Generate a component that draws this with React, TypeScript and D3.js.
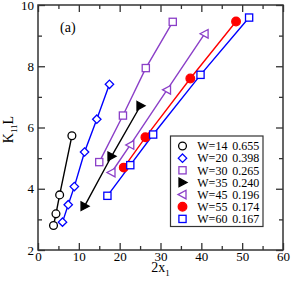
import React, { useEffect, useRef } from 'react';
import * as d3 from 'd3';

// series: 2x1 (x) and K11L (y)
const seriesNames = ['W=14', 'W=20', 'W=30', 'W=35', 'W=45', 'W=55', 'W=60'];
const seriesValues = ['0.655', '0.398', '0.265', '0.240', '0.196', '0.174', '0.167'];

const w14x = [3.8, 4.4, 5.3, 8.3];
const w14y = [2.8, 3.18, 3.8, 5.73];
const w20x = [6.0, 7.4, 8.9, 11.4, 14.4, 17.5];
const w20y = [2.91, 3.48, 4.07, 5.2, 6.27, 7.41];
const w30x = [15.0, 20.8, 26.4, 33.0];
const w30y = [4.87, 6.39, 7.94, 9.45];
const w35x = [11.4, 18.0, 25.1];
const w35y = [3.43, 5.06, 6.71];
const w45x = [18.0, 22.6, 31.6, 40.8];
const w45y = [4.53, 5.43, 7.23, 9.06];
const w55x = [21.0, 26.3, 37.3, 48.5];
const w55y = [4.69, 5.68, 7.6, 9.46];
const w60x = [17.0, 22.6, 28.2, 39.8, 51.7];
const w60y = [3.77, 4.77, 5.77, 7.72, 9.59];

const xTicks = [0, 10, 20, 30, 40, 50, 60];
const yTicks = [2, 4, 6, 8, 10];

const purple = '#8b3fc8';

const App = () => {
  const ref = useRef<SVGSVGElement>(null);

  useEffect(() => {
    const svg = d3.select(ref.current);
    svg.selectAll('*').remove();

    const width = 291, height = 281;
    const margin = { top: 5, right: 8, bottom: 31, left: 38 };
    const iw = width - margin.left - margin.right;
    const ih = height - margin.top - margin.bottom;
    const font = "'Liberation Serif', 'Times New Roman', serif";

    const x = d3.scaleLinear().domain([0, 60]).range([0, iw]);
    const y = d3.scaleLinear().domain([2, 10]).range([ih, 0]);

    const g = svg.append('g').attr('transform', `translate(${margin.left},${margin.top})`);

    const minorX = d3.range(5, 60, 10);
    const minorY = d3.range(3, 10, 2);

    // ticks on all four sides, pointing inward
    const styleAxis = (sel: any) => {
      sel.selectAll('path').remove();
      sel.selectAll('line').attr('stroke', '#333').attr('stroke-width', 1.3);
      sel.selectAll('text').style('font-family', font).style('font-size', '13px').attr('fill', '#000');
    };

    const major = 7, minor = 4;
    g.append('g').attr('transform', `translate(0,${ih})`)
      .call(d3.axisBottom(x).tickValues(minorX).tickSize(-minor).tickFormat(() => ''))
      .call(styleAxis);
    g.append('g').attr('transform', `translate(0,${ih})`)
      .call(d3.axisBottom(x).tickValues(xTicks).tickSize(-major).tickPadding(2).tickFormat(d3.format('d')))
      .call(styleAxis);
    g.append('g')
      .call(d3.axisTop(x).tickValues(minorX).tickSize(-minor).tickFormat(() => ''))
      .call(styleAxis);
    g.append('g')
      .call(d3.axisTop(x).tickValues(xTicks).tickSize(-major).tickFormat(() => ''))
      .call(styleAxis);
    g.append('g')
      .call(d3.axisLeft(y).tickValues(minorY).tickSize(-minor).tickFormat(() => ''))
      .call(styleAxis);
    g.append('g')
      .call(d3.axisLeft(y).tickValues(yTicks).tickSize(-major).tickPadding(4).tickFormat(d3.format('d')))
      .call(styleAxis);
    g.append('g').attr('transform', `translate(${iw},0)`)
      .call(d3.axisRight(y).tickValues(minorY).tickSize(-minor).tickFormat(() => ''))
      .call(styleAxis);
    g.append('g').attr('transform', `translate(${iw},0)`)
      .call(d3.axisRight(y).tickValues(yTicks).tickSize(-major).tickFormat(() => ''))
      .call(styleAxis);

    g.append('rect').attr('width', iw).attr('height', ih)
      .attr('fill', 'none').attr('stroke', '#333').attr('stroke-width', 1.5);

    const series = [
      { xs: w14x, ys: w14y, color: '#000', shape: 'circle', filled: false },
      { xs: w20x, ys: w20y, color: '#0000ff', shape: 'diamond', filled: false },
      { xs: w30x, ys: w30y, color: purple, shape: 'square', filled: false },
      { xs: w35x, ys: w35y, color: '#000', shape: 'triRight', filled: true },
      { xs: w45x, ys: w45y, color: purple, shape: 'triLeft', filled: false },
      { xs: w55x, ys: w55y, color: '#ff0000', shape: 'circle', filled: true },
      { xs: w60x, ys: w60y, color: '#0000ff', shape: 'square', filled: false },
    ];

    const drawMarker = (sel: any, shape: string, color: string, filled: boolean, cx: number, cy: number) => {
      const fill = filled ? color : '#fff';
      if (shape === 'circle') {
        sel.append('circle').attr('cx', cx).attr('cy', cy).attr('r', filled ? 4.3 : 3.9)
          .attr('fill', fill).attr('stroke', color).attr('stroke-width', 1.3);
      } else if (shape === 'square') {
        sel.append('rect').attr('x', cx - 3.6).attr('y', cy - 3.6).attr('width', 7.2).attr('height', 7.2)
          .attr('fill', fill).attr('stroke', color).attr('stroke-width', 1.3);
      } else {
        let pts: number[][] = [];
        if (shape === 'diamond') pts = [[0, -4.2], [4.2, 0], [0, 4.2], [-4.2, 0]];
        if (shape === 'triRight') pts = [[-3.5, -4.3], [4.5, 0], [-3.5, 4.3]];
        if (shape === 'triLeft') pts = [[3.5, -4.3], [-4.5, 0], [3.5, 4.3]];
        sel.append('polygon')
          .attr('points', pts.map(p => `${cx + p[0]},${cy + p[1]}`).join(' '))
          .attr('fill', fill).attr('stroke', color).attr('stroke-width', 1.3);
      }
    };

    const line = d3.line<number[]>().x(d => x(d[0])).y(d => y(d[1]));

    series.forEach(s => {
      const pts = s.xs.map((v, i) => [v, s.ys[i]]);
      g.append('path').datum(pts).attr('d', line)
        .attr('fill', 'none').attr('stroke', s.color).attr('stroke-width', 1.4);
    });
    series.forEach(s => {
      const mg = g.append('g');
      s.xs.forEach((v, i) => drawMarker(mg, s.shape, s.color, s.filled, x(v), y(s.ys[i])));
    });

    // legend
    const lx = 170.5 - margin.left, ly = 136 - margin.top;
    const lg = g.append('g').attr('transform', `translate(${lx},${ly})`);
    lg.append('rect').attr('width', 92.5).attr('height', 90.5)
      .attr('fill', '#fff').attr('stroke', '#333').attr('stroke-width', 1.2);
    series.forEach((s, i) => {
      const ry = 10 + i * 12.15;
      drawMarker(lg, s.shape, s.color, s.filled, 12, ry);
      lg.append('text').attr('x', 26.8).attr('y', ry + 4.3)
        .style('font-family', font).style('font-size', '12px').text(seriesNames[i]);
      lg.append('text').attr('x', 61.8).attr('y', ry + 4.3)
        .style('font-family', font).style('font-size', '12px').text(seriesValues[i]);
    });

    // panel tag
    g.append('text').attr('x', 60 - margin.left).attr('y', 32 - margin.top)
      .style('font-family', font).style('font-size', '14px').text('(a)');

    // axis titles
    const xl = svg.append('text').attr('x', margin.left + iw / 2).attr('y', 272)
      .attr('text-anchor', 'middle').style('font-family', font).style('font-size', '14px');
    xl.append('tspan').text('2x');
    xl.append('tspan').style('font-size', '9px').attr('dy', 4).text('1');

    const yl = svg.append('text')
      .attr('transform', `translate(13,${margin.top + ih / 2 + 2}) rotate(-90)`)
      .attr('text-anchor', 'middle').style('font-family', font).style('font-size', '14px');
    yl.append('tspan').text('K');
    yl.append('tspan').style('font-size', '9px').attr('dy', 4).text('11');
    yl.append('tspan').attr('dy', -4).text('L');
  }, []);

  return (
    <svg ref={ref} width={291} height={281}
      style={{ position: 'absolute', left: 0, top: 0, background: '#fff' }} />
  );
};

export default App;
